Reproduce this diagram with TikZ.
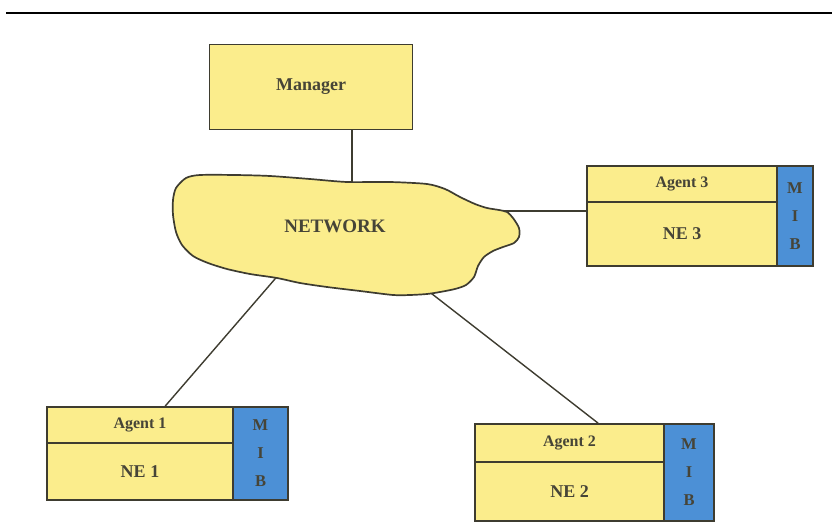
\documentclass[tikz,border=0pt]{standalone}
\usepackage{fontspec}
\setmainfont{Liberation Serif}
\usetikzlibrary{calc}
\definecolor{boxyellow}{RGB}{251,237,140}
\definecolor{mibblue}{RGB}{76,144,214}
\definecolor{edge}{RGB}{62,60,48}
\definecolor{ink}{RGB}{70,68,55}
\tikzset{
  part/.style={draw=edge, line width=1.7pt, fill=boxyellow, inner sep=0pt,
    text=ink, font=\bfseries\fontsize{16}{18}\selectfont},
  mibpart/.style={part, fill=mibblue, align=center,
    font=\bfseries\fontsize{16.5}{28}\selectfont},
  link/.style={draw=edge, line width=1.4pt}
}
\begin{document}
\begin{tikzpicture}[x=1pt,y=-1pt]
\useasboundingbox (0,0) rectangle (832,524);
% rule across the top
\draw[line width=2.2pt] (6,13) -- (832,13);

% manager
\node[part, minimum width=203pt, minimum height=85pt,
  font=\bfseries\fontsize{18}{20}\selectfont] (mgr) at (311,87) {Manager};

% agent 3
\node[part, minimum width=190pt, minimum height=36pt] (a3top) at (682,184) {Agent 3};
\node[part, minimum width=190pt, minimum height=64pt,
  font=\bfseries\fontsize{18}{20}\selectfont] (a3ne) at (682,234) {NE 3};
\node[mibpart, minimum width=36pt, minimum height=100pt] (a3mib) at (795,216) {M\\I\\B};

% agent 1
\node[part, minimum width=186pt, minimum height=36pt] (a1top) at (140,425) {Agent 1};
\node[part, minimum width=186pt, minimum height=57pt,
  font=\bfseries\fontsize{18}{20}\selectfont] (a1ne) at (140,471.5) {NE 1};
\node[mibpart, minimum width=55pt, minimum height=93pt] (a1mib) at (260.5,453.5) {M\\I\\B};

% agent 2
\node[part, minimum width=189pt, minimum height=38pt] (a2top) at (569.5,443) {Agent 2};
\node[part, minimum width=189pt, minimum height=59pt,
  font=\bfseries\fontsize{18}{20}\selectfont] (a2ne) at (569.5,491.5) {NE 2};
\node[mibpart, minimum width=50pt, minimum height=97pt] (a2mib) at (689,472.5) {M\\I\\B};

% attachment points inside the network cloud
\coordinate (nTop) at (352,190);
\coordinate (nRight) at (500,211);
\coordinate (nLL) at (281,272);
\coordinate (nLR) at (418,283);

% links (the cloud is painted over their inner ends)
\draw[link] (mgr.south -| nTop) -- (nTop);
\draw[link] (nRight) -- (nRight -| a3ne.west);
\draw[link] (nLL) -- ($(a1top.north west)!0.634!(a1top.north east)$);
\draw[link] (nLR) -- ($(a2top.north west)!0.65!(a2top.north east)$);

% network cloud
\draw[draw=edge, line width=1.7pt, fill=boxyellow]
  plot[smooth cycle, tension=0.45] coordinates {
    (186,178) (200,175) (235,175) (270,176) (310,179) (347,182) (390,182)
    (427,184) (445,189) (460,197) (475,204) (487,208) (499,210) (507,212)
    (513,218) (519,228) (519,237) (514,243) (503,247) (493,251) (484,257)
    (478,266) (474,277) (466,285) (455,289) (440,292) (427,294) (410,295)
    (393,295) (360,291) (327,287) (300,283) (277,278) (250,274) (227,269)
    (208,263) (193,256) (182,245) (176,232) (173,215) (173,200) (176,188)
  };
\node[text=ink, font=\bfseries\fontsize{19}{21}\selectfont] (net) at (335,226) {NETWORK};
\end{tikzpicture}
\end{document}
